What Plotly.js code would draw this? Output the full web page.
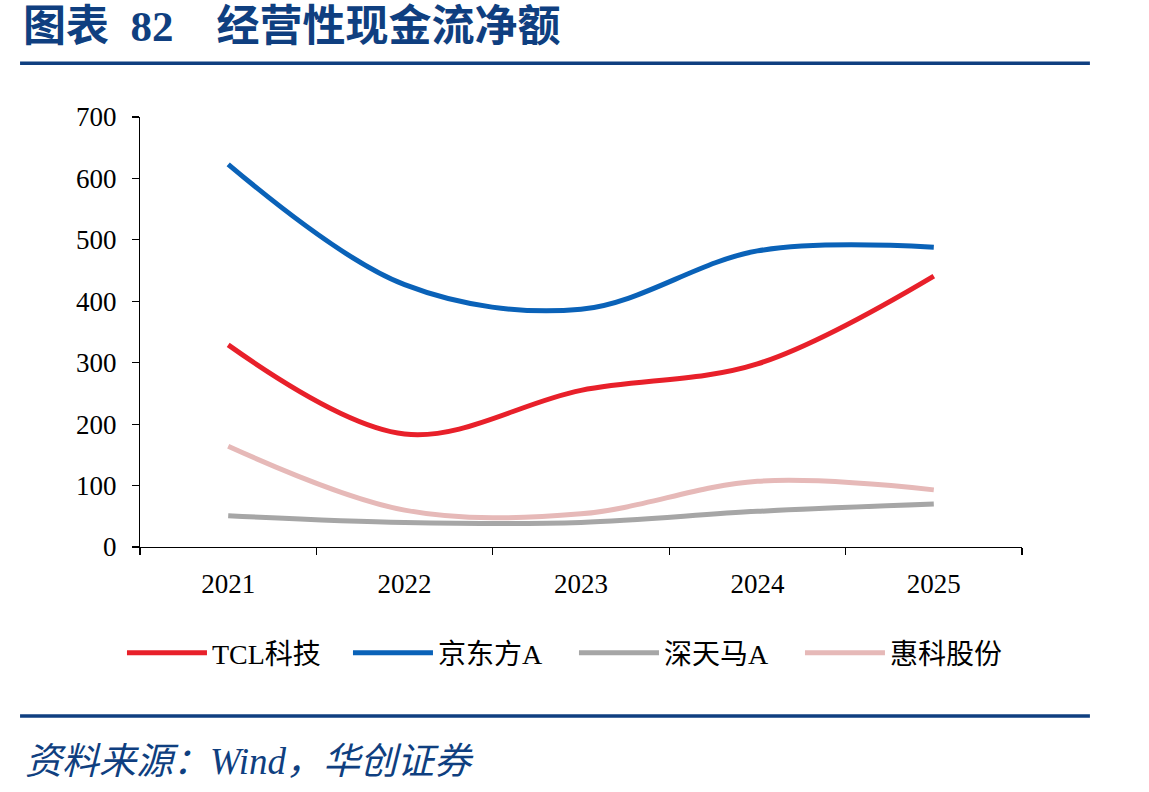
<!DOCTYPE html>
<html>
<head>
<meta charset="utf-8">
<script src="https://cdn.plot.ly/plotly-3.0.1.min.js"></script>
<style>html,body{margin:0;padding:0;background:#fff;}#chart{width:1149px;height:792px;}</style>
</head>
<body>
<div id="chart"></div>
<script>
const years = ["2021", "2022", "2023", "2024", "2025"];
const tcl = [329, 184, 255, 298, 441];
const boe = [623, 427, 387, 482, 488];
const tianma = [51, 40, 40, 58, 70];
const huike = [164, 60, 54, 107, 93];
const seriesNames = ["TCL科技", "京东方A", "深天马A", "惠科股份"];
const seriesColors = ["#E8202A", "#0A62B8", "#A6A6A6", "#E6B9B8"];
const yTicks = [0, 100, 200, 300, 400, 500, 600, 700];

const serif = "Liberation Serif, Times New Roman, Noto Sans CJK SC, serif";
const allSeries = [tcl, boe, tianma, huike];
const traces = allSeries.map((vals, i) => ({
  type: "scatter", mode: "lines", x: years, y: vals, name: seriesNames[i],
  line: {color: seriesColors[i], width: 5, shape: "spline", smoothing: 1.0},
  hoverinfo: "skip"
}));

const navy = "#0F3F80";
const layout = {
  width: 1149, height: 792,
  margin: {l: 140, r: 127, t: 117, b: 245},
  paper_bgcolor: "#fff", plot_bgcolor: "#fff",
  showlegend: true,
  legend: {orientation: "h", x: 1.0045, xanchor: "right", y: -0.2465, yanchor: "middle",
    font: {family: serif, size: 28, color: "#000"}, itemwidth: 80, entrywidth: 131, entrywidthmode: "pixels", tracegroupgap: 0},
  xaxis: {type: "category", range: [-0.5, 4.5], tickson: "boundaries", ticks: "outside",
    ticklen: 7, tickcolor: "#000", tickwidth: 1.2, showline: true, linecolor: "#000", linewidth: 1.2,
    showgrid: false, zeroline: false, tickfont: {family: serif, size: 27, color: "#000"}, ticklabelstandoff: 12,
    fixedrange: true},
  yaxis: {range: [0, 700], tickvals: yTicks, ticktext: yTicks.map(String), ticks: "outside",
    ticklen: 7, tickcolor: "#000", tickwidth: 1.2, showline: true, linecolor: "#000", linewidth: 1.2,
    showgrid: false, zeroline: false, tickfont: {family: serif, size: 27, color: "#000"}, ticklabelstandoff: 10,
    fixedrange: true},
  shapes: [
    {type: "line", xref: "paper", yref: "paper", x0: -0.136, x1: 1.077, y0: 1.125, y1: 1.125, line: {color: navy, width: 3.5}},
    {type: "line", xref: "paper", yref: "paper", x0: -0.136, x1: 1.077, y0: -0.393, y1: -0.393, line: {color: navy, width: 3.5}}
  ],
  annotations: [
    {xref: "paper", yref: "paper", x: -0.135, y: 1.21, xanchor: "left", yanchor: "middle", showarrow: false,
      text: "<b>图表&nbsp;&nbsp;82&nbsp;&nbsp;&nbsp;&nbsp;经营性现金流净额</b>", font: {family: serif, size: 43, color: navy}},
    {xref: "paper", yref: "paper", x: -0.133, y: -0.498, xanchor: "left", yanchor: "middle", showarrow: false,
      text: "<i>资料来源：Wind，华创证券</i>", font: {family: serif, size: 37, color: navy}}
  ]
};
Plotly.newPlot("chart", traces, layout, {displayModeBar: false, staticPlot: true});
</script>
</body>
</html>
